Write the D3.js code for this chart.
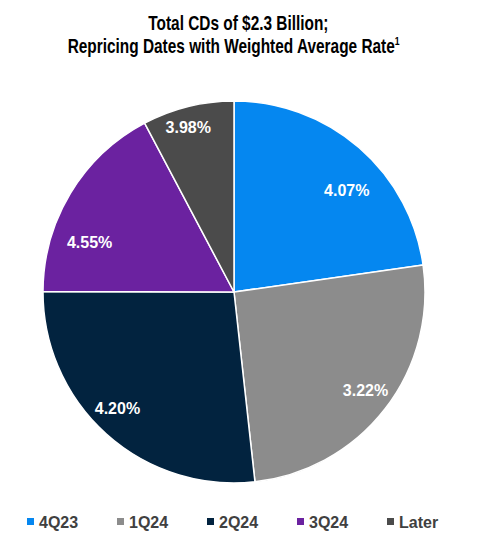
<!DOCTYPE html>
<html><head><meta charset="utf-8">
<script src="https://cdn.jsdelivr.net/npm/d3@7"></script>
<style>body{margin:0;background:#fff}svg{display:block}</style>
</head><body>
<svg id="c" width="480" height="547"></svg>
<script>
const categories = ["4Q23","1Q24","2Q24","3Q24","Later"];
const shares = [22.75, 25.5, 26.8, 17.2, 7.75];
const rateLabels = ["4.07%","3.22%","4.20%","4.55%","3.98%"];
const colors = ["#0587F0","#8C8C8C","#02233F","#6B22A0","#4B4B4B"];
const titleLines = ["Total CDs of $2.3 Billion;","Repricing Dates with Weighted Average Rate"];

const font = "'Liberation Sans',Arial,sans-serif";
const svg = d3.select("#c");
const cx = 234, cy = 292, r = 191;

// title (condensed look)
const tg = svg.append("g").attr("transform","translate(236,0) scale(0.79,1)");
const t = tg.append("text").attr("text-anchor","middle").attr("font-family",font)
  .attr("font-weight","bold").attr("font-size",19.5).attr("fill","#000");
t.append("tspan").attr("x",3).attr("y",30).text(titleLines[0]);
t.append("tspan").attr("x",-3).attr("y",53).text(titleLines[1]);
t.append("tspan").attr("font-size",11).attr("dy",-8).text("1");

const pie = d3.pie().sort(null).value(d=>d);
const arcs = pie(shares);
const arc = d3.arc().innerRadius(0).outerRadius(r);
const g = svg.append("g").attr("transform",`translate(${cx},${cy})`);
g.selectAll("path").data(arcs).join("path")
  .attr("d",arc).attr("fill",(d,i)=>colors[i])
  .attr("stroke","#fff").attr("stroke-width",1.5).attr("stroke-linejoin","round");

// label placement styles: radius factor and angular offset (deg)
const lr = [0.795,0.86,0.864,0.80,0.894];
const lo = [7,-1,3,-12,-1.6];
g.selectAll("text.lbl").data(arcs).join("text").attr("class","lbl")
  .attr("transform",(d,i)=>{const a=(d.startAngle+d.endAngle)/2+lo[i]*Math.PI/180;const rr=r*lr[i];return `translate(${Math.sin(a)*rr},${-Math.cos(a)*rr})`;})
  .attr("text-anchor","middle").attr("dy","0.35em")
  .attr("font-family",font).attr("font-weight","bold").attr("font-size",16)
  .attr("fill","#fff").text((d,i)=>rateLabels[i]);

// legend
const lx = d3.scalePoint().domain(categories).range([27,387]);
const lg = svg.append("g").selectAll("g").data(categories).join("g")
  .attr("transform",d=>`translate(${lx(d)},0)`);
lg.append("rect").attr("x",0).attr("y",518).attr("width",7).attr("height",7)
  .attr("fill",(d,i)=>colors[i]);
lg.append("text").attr("x",12).attr("y",528).attr("font-family",font)
  .attr("font-weight","bold").attr("font-size",16).attr("fill","#404040").text(d=>d);
</script>
</body></html>
